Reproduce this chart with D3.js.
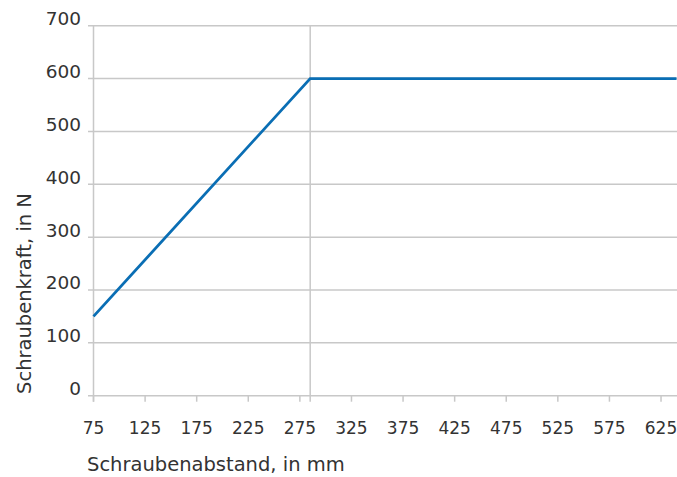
<!DOCTYPE html>
<html><head><meta charset="utf-8">
<script src="https://cdn.jsdelivr.net/npm/d3@7"></script>
<style>
body{margin:0;background:#fff;}
svg{display:block;}
text{font-family:"DejaVu Sans",sans-serif;fill:#333;}
</style></head>
<body><svg id="c" width="677" height="477"></svg>
<script>
const xValues = [75, 285, 640];
const yValues = [150, 600, 600];
const xTicks = [75,125,175,225,275,325,375,425,475,525,575,625];
const yTicks = [0,100,200,300,400,500,600,700];
const refLine = 285;
const xLabel = "Schraubenabstand, in mm";
const yLabel = "Schraubenkraft, in N";

const svg = d3.select("#c");
const x = d3.scaleLinear().domain([75, 640]).range([93.5, 676.5]);
const y = d3.scaleLinear().domain([0, 700]).range([395.7, 25.7]);
const grid = "#c8c8c8";
const fs = 19.5, yfs = 18.5, xfs = 17;

svg.append("g").selectAll("line").data(yTicks).join("line")
  .attr("x1", 88).attr("x2", 677)
  .attr("y1", d => y(d)).attr("y2", d => y(d))
  .attr("stroke", grid).attr("stroke-width", 1.5);

svg.append("g").selectAll("line").data(xTicks).join("line")
  .attr("x1", d => x(d)).attr("x2", d => x(d))
  .attr("y1", y(0)).attr("y2", y(0) + 6)
  .attr("stroke", grid).attr("stroke-width", 1.5);

svg.append("line").attr("x1", x(75)).attr("x2", x(75))
  .attr("y1", y(700)).attr("y2", y(0) + 6)
  .attr("stroke", grid).attr("stroke-width", 1.5);

svg.append("line").attr("x1", x(refLine)).attr("x2", x(refLine))
  .attr("y1", y(700)).attr("y2", y(0) + 6)
  .attr("stroke", grid).attr("stroke-width", 1.5);

svg.append("g").selectAll("text").data(yTicks).join("text")
  .attr("x", 81).attr("y", d => y(d) - 0.5)
  .attr("text-anchor", "end").attr("font-size", yfs)
  .text(d => d);

svg.append("g").selectAll("text").data(xTicks).join("text")
  .attr("x", d => x(d)).attr("y", 434)
  .attr("text-anchor", "middle").attr("font-size", xfs)
  .text(d => d);

svg.append("text").attr("x", 87).attr("y", 471).attr("font-size", fs).text(xLabel);
svg.append("text").attr("transform", "translate(31,293.5) rotate(-90)")
  .attr("text-anchor", "middle").attr("font-size", fs).text(yLabel);

const pts = xValues.map((v, i) => [v, yValues[i]]);
svg.append("path").datum(pts)
  .attr("d", d3.line().x(d => x(d[0])).y(d => y(d[1])))
  .attr("fill", "none").attr("stroke", "#0a6eb4").attr("stroke-width", 2.8);
</script></body></html>
